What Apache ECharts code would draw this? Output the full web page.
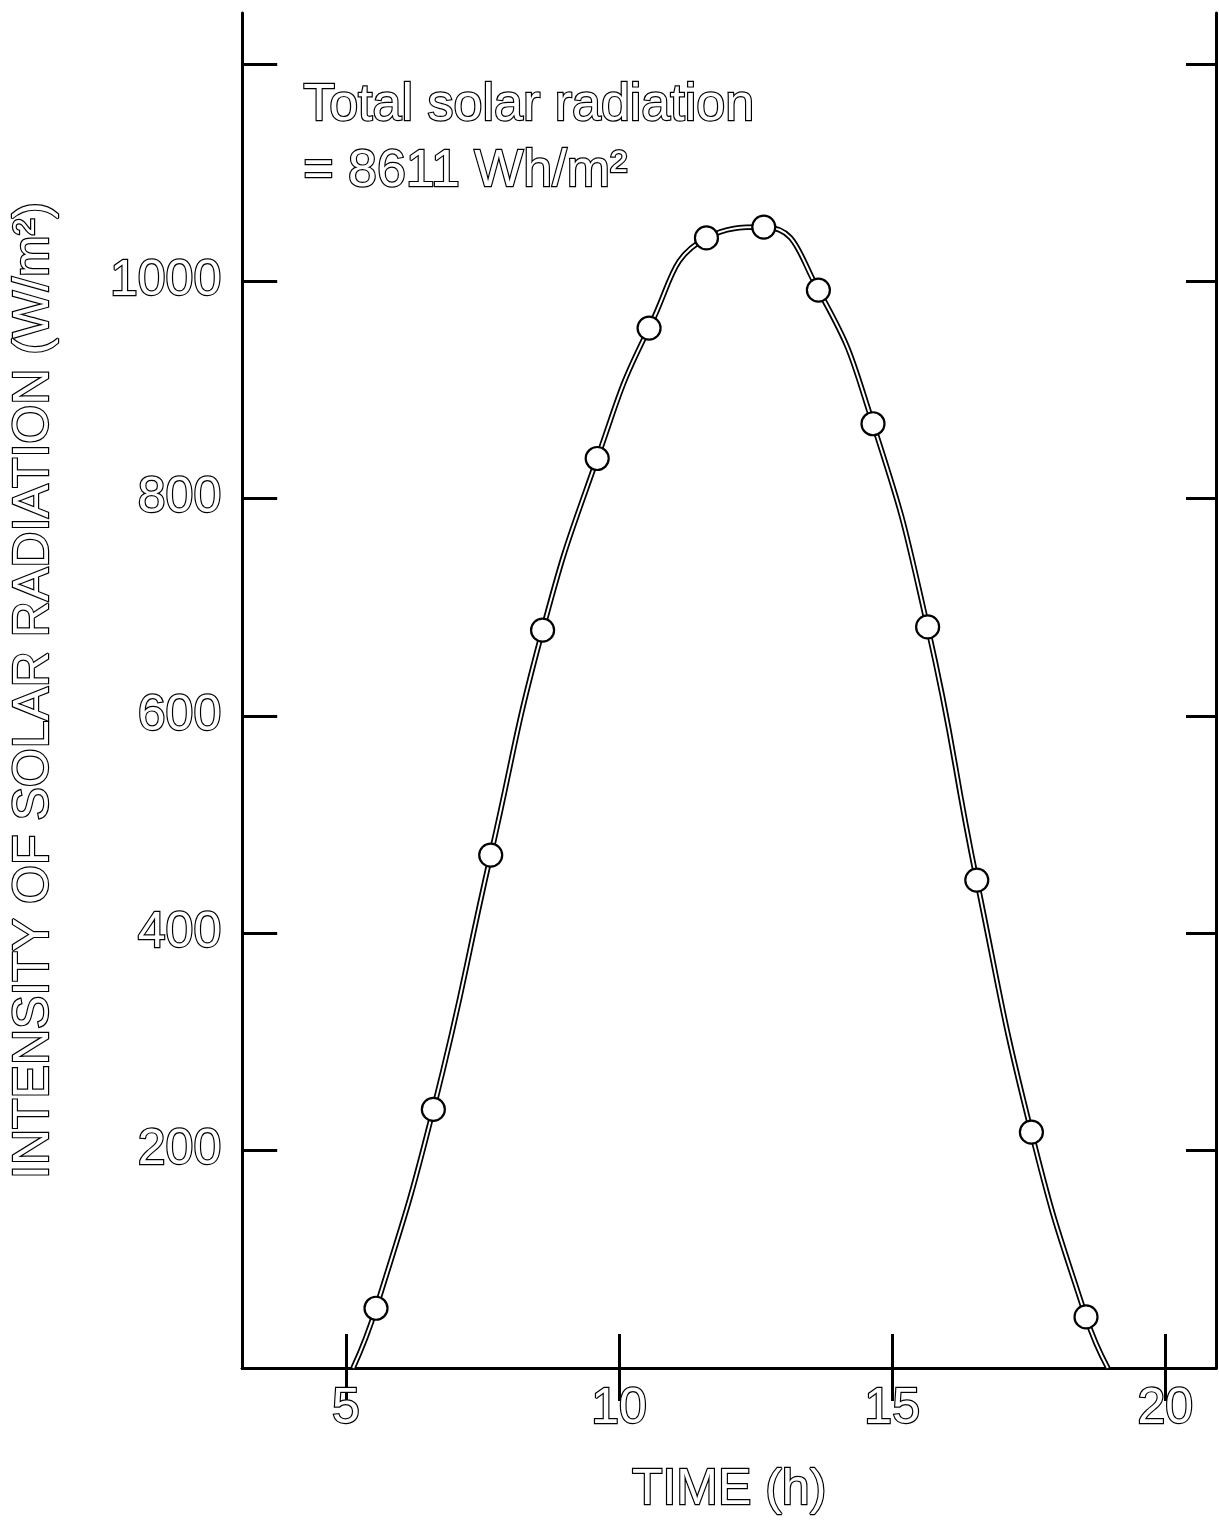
<!DOCTYPE html>
<html><head><meta charset="utf-8">
<script src="https://cdn.jsdelivr.net/npm/echarts@6/dist/echarts.min.js"></script>
<style>html,body{margin:0;padding:0;background:#fff}#c{width:1219px;height:1525px}</style>
</head><body><div id="c"></div>
<script>
// Data
const timeHours = [5.55, 6.6, 7.65, 8.6, 9.6, 10.55, 11.6, 12.65, 13.65, 14.65, 15.65, 16.55, 17.55, 18.55];
const radiation = [55, 238, 472, 679, 837, 957, 1040, 1050, 992, 869, 682, 449, 217, 47];
const sunrise = [5.13, 0];
const sunset = [18.95, 0];
const xTicks = [5, 10, 15, 20];
const yTicks = [200, 400, 600, 800, 1000, 1200];
const yLabels = [200, 400, 600, 800, 1000];
const noteLine1 = 'Total solar radiation';
const noteLine2 = '= 8611 Wh/m²';
const xName = 'TIME (h)';
const yName = 'INTENSITY OF SOLAR RADIATION (W/m²)';

const points = timeHours.map((t, i) => [t, radiation[i]]);
const curve = [sunrise].concat(points, [sunset]);

const FONT = "'Liberation Sans', Arial, sans-serif";
const hollow = { color: '#ffffff', textBorderColor: '#000000', textBorderWidth: 2.4, fontFamily: FONT };
const axisLine = { show: true, lineStyle: { color: '#000', width: 3 } };

const chart = echarts.init(document.getElementById('c'), null, { renderer: 'canvas' });
chart.setOption({
  backgroundColor: '#ffffff',
  animation: false,
  grid: { left: 241, top: 13, width: 975, height: 1355, containLabel: false },
  xAxis: [{
    type: 'value', min: 3.1, max: 20.93, position: 'bottom',
    axisLine: axisLine,
    axisTick: { show: true, inside: true, length: 34, customValues: xTicks, lineStyle: { color: '#000', width: 3 } },
    axisLabel: Object.assign({ customValues: xTicks, margin: 16, fontSize: 50, formatter: v => String(v) }, hollow),
    splitLine: { show: false },
    name: xName, nameLocation: 'middle', nameGap: 97,
    nameTextStyle: Object.assign({ fontSize: 50 }, hollow)
  }, {
    type: 'value', min: 3.1, max: 20.93, position: 'top',
    axisLine: axisLine,
    axisTick: { show: true, inside: true, length: 33, customValues: xTicks, lineStyle: { color: '#000', width: 3 } },
    axisLabel: { show: false },
    splitLine: { show: false }
  }],
  yAxis: [{
    type: 'value', min: 0, max: 1247, position: 'left',
    axisLine: axisLine,
    axisTick: { show: true, inside: true, length: 35, customValues: yTicks, lineStyle: { color: '#000', width: 3 } },
    axisLabel: Object.assign({ customValues: yLabels, margin: 21, fontSize: 50, formatter: v => String(v) }, hollow),
    splitLine: { show: false },
    name: yName, nameLocation: 'middle', nameGap: 183, nameRotate: 90,
    nameTextStyle: Object.assign({ fontSize: 50 }, hollow)
  }, {
    type: 'value', min: 0, max: 1247, position: 'right',
    axisLine: axisLine,
    axisTick: { show: true, inside: true, length: 30, customValues: yTicks, lineStyle: { color: '#000', width: 3 } },
    axisLabel: { show: false },
    splitLine: { show: false }
  }],
  series: [{
    type: 'line', data: curve, smooth: 0.5, showSymbol: false,
    lineStyle: { color: '#000', width: 5.5 }, z: 2, silent: true
  }, {
    type: 'line', data: curve, smooth: 0.5, showSymbol: false,
    lineStyle: { color: '#fff', width: 2 }, z: 3, silent: true
  }, {
    type: 'scatter', data: points, symbol: 'circle', symbolSize: 23,
    itemStyle: { color: '#fff', borderColor: '#000', borderWidth: 2.2, opacity: 1 }, z: 4, silent: true
  }],
  graphic: [{
    type: 'text', left: 302, top: 78,
    style: { text: noteLine1, fill: '#fff', stroke: '#000', lineWidth: 2.4, font: '52px ' + FONT }
  }, {
    type: 'text', left: 302, top: 144,
    style: { text: noteLine2, fill: '#fff', stroke: '#000', lineWidth: 2.4, font: '52px ' + FONT }
  }]
});
</script>
</body></html>
